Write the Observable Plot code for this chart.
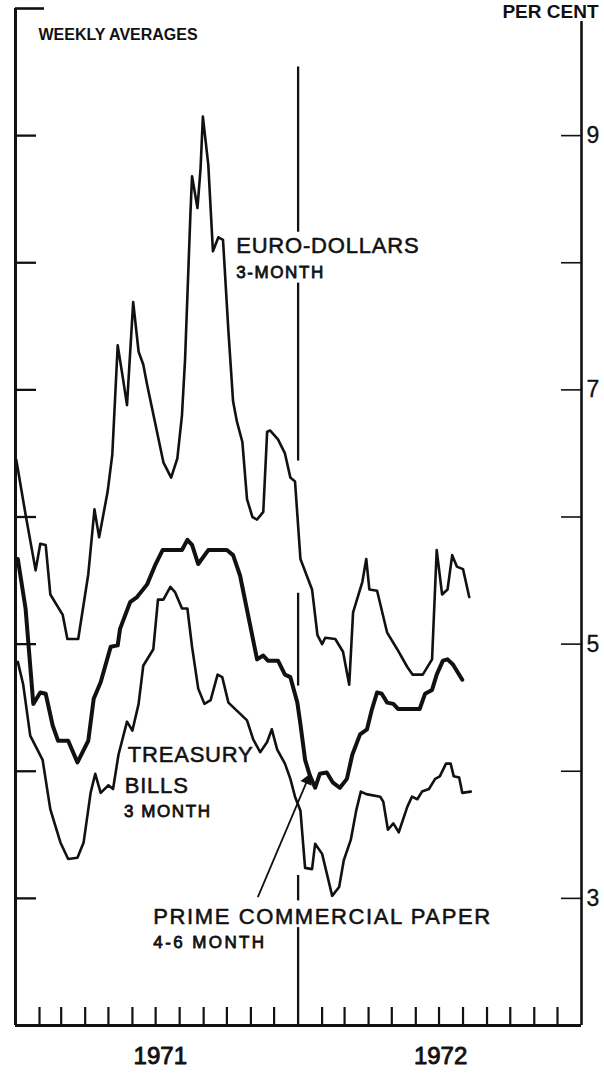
<!DOCTYPE html>
<html><head><meta charset="utf-8">
<script src="https://cdn.jsdelivr.net/npm/d3@7"></script>
<script src="https://cdn.jsdelivr.net/npm/@observablehq/plot@0.6"></script>
<style>
html,body{margin:0;padding:0;background:#fff;}
#chart svg{display:block;}
g[font-size="22"]{letter-spacing:0.8px;}
g[font-size="17"]{letter-spacing:1.6px;}
</style></head><body><div id="chart"></div>
<script>
// Weekly averages, per cent
const euroDollars = [
["1971-01-02",6.45],["1971-01-14",6.02],["1971-01-27",5.58],["1971-02-02",5.79],["1971-02-09",5.78],
["1971-02-15",5.39],["1971-03-03",5.23],["1971-03-09",5.04],["1971-03-23",5.04],["1971-04-05",5.55],
["1971-04-13",6.06],["1971-04-19",5.84],["1971-04-30",6.20],["1971-05-06",6.49],["1971-05-13",7.35],
["1971-05-19",7.12],["1971-05-25",6.88],["1971-06-02",7.69],["1971-06-09",7.30],["1971-06-15",7.20],
["1971-06-20",7.04],["1971-07-11",6.43],["1971-07-21",6.31],["1971-07-29",6.46],["1971-08-04",6.80],
["1971-08-08",7.24],["1971-08-15",8.40],["1971-08-17",8.68],["1971-08-24",8.43],["1971-08-28",8.74],
["1971-08-31",9.15],["1971-09-07",8.77],["1971-09-13",8.09],["1971-09-20",8.20],["1971-09-26",8.18],
["1971-10-03",7.46],["1971-10-09",6.91],["1971-10-14",6.75],["1971-10-21",6.59],["1971-10-27",6.14],
["1971-11-03",6.00],["1971-11-09",5.98],["1971-11-17",6.04],["1971-11-22",6.67],["1971-11-26",6.68],
["1971-12-06",6.61],["1971-12-15",6.50],["1971-12-22",6.31],["1971-12-28",6.28],["1972-01-04",5.67],
["1972-01-19",5.43],["1972-01-26",5.07],["1972-02-01",5.00],["1972-02-05",5.05],["1972-02-18",5.04],
["1972-02-28",4.94],["1972-03-07",4.68],["1972-03-12",5.25],["1972-03-24",5.49],["1972-03-29",5.67],
["1972-04-02",5.43],["1972-04-12",5.42],["1972-04-25",5.09],["1972-05-08",4.96],["1972-05-21",4.82],
["1972-05-28",4.76],["1972-06-10",4.76],["1972-06-22",4.88],["1972-06-28",5.74],["1972-07-05",5.39],
["1972-07-12",5.43],["1972-07-18",5.70],["1972-07-24",5.61],["1972-08-01",5.59],["1972-08-09",5.37]
];
const commercialPaper = [
["1971-01-04",5.67],["1971-01-14",5.28],["1971-01-24",4.53],["1971-02-02",4.62],["1971-02-09",4.61],
["1971-02-18",4.36],["1971-02-25",4.24],["1971-03-10",4.24],["1971-03-22",4.07],["1971-04-05",4.24],
["1971-04-12",4.57],["1971-04-21",4.70],["1971-05-04",4.98],["1971-05-13",4.99],["1971-05-16",5.12],
["1971-05-29",5.33],["1971-06-07",5.37],["1971-06-20",5.47],["1971-07-01",5.63],["1971-07-10",5.74],
["1971-08-04",5.74],["1971-08-11",5.82],["1971-08-17",5.78],["1971-08-25",5.63],["1971-09-07",5.74],
["1971-10-01",5.74],["1971-10-09",5.70],["1971-10-18",5.54],["1971-11-09",4.88],["1971-11-17",4.91],
["1971-11-23",4.87],["1971-12-06",4.87],["1971-12-15",4.76],["1971-12-22",4.74],["1971-12-31",4.54],
["1972-01-04",4.37],["1972-01-10",4.09],["1972-01-16",3.97],["1972-01-23",3.87],["1972-01-29",3.98],
["1972-02-07",3.99],["1972-02-15",3.91],["1972-02-24",3.87],["1972-03-04",3.94],["1972-03-11",4.13],
["1972-03-21",4.29],["1972-03-30",4.33],["1972-04-05",4.48],["1972-04-12",4.62],["1972-04-18",4.61],
["1972-04-25",4.54],["1972-05-03",4.53],["1972-05-09",4.49],["1972-06-06",4.49],["1972-06-13",4.61],
["1972-06-22",4.64],["1972-06-28",4.76],["1972-07-06",4.87],["1972-07-12",4.88],["1972-07-19",4.84],
["1972-07-31",4.72]
];
const treasuryBills = [
["1971-01-04",4.86],["1971-01-11",4.68],["1971-01-20",4.28],["1971-02-05",4.09],["1971-02-15",3.70],
["1971-02-28",3.44],["1971-03-10",3.31],["1971-03-22",3.32],["1971-03-30",3.44],["1971-04-08",3.83],
["1971-04-14",3.98],["1971-04-21",3.83],["1971-05-01",3.89],["1971-05-07",3.86],["1971-05-14",4.13],
["1971-05-25",4.39],["1971-06-01",4.32],["1971-06-09",4.53],["1971-06-15",4.83],["1971-06-28",4.96],
["1971-07-04",5.35],["1971-07-11",5.35],["1971-07-20",5.45],["1971-07-26",5.41],["1971-08-04",5.28],
["1971-08-11",5.28],["1971-08-17",4.98],["1971-08-25",4.65],["1971-09-02",4.53],["1971-09-10",4.56],
["1971-09-19",4.76],["1971-09-25",4.74],["1971-10-03",4.54],["1971-10-27",4.40],["1971-11-04",4.25],
["1971-11-13",4.15],["1971-11-22",4.23],["1971-11-28",4.33],["1971-12-05",4.17],["1971-12-15",4.06],
["1971-12-22",3.94],["1971-12-28",3.80],["1972-01-04",3.69],["1972-01-10",3.24],["1972-01-19",3.23],
["1972-01-23",3.43],["1972-02-01",3.35],["1972-02-14",3.02],["1972-02-23",3.09],["1972-02-29",3.30],
["1972-03-09",3.46],["1972-03-16",3.69],["1972-03-22",3.84],["1972-03-29",3.82],["1972-04-16",3.80],
["1972-04-20",3.76],["1972-04-26",3.54],["1972-05-03",3.59],["1972-05-10",3.52],["1972-05-21",3.72],
["1972-05-27",3.80],["1972-06-03",3.78],["1972-06-09",3.84],["1972-06-18",3.86],["1972-06-26",3.94],
["1972-07-02",3.96],["1972-07-10",4.06],["1972-07-16",4.06],["1972-07-20",3.96],["1972-07-27",3.95],
["1972-07-31",3.83],["1972-08-11",3.84]
];

const yTicks = [3, 4, 5, 6, 7, 8, 9];
const yTickLabels = [3, 5, 7, 9];
const yearLabels = [["1971-07-07", "1971"], ["1972-07-03", "1972"]];
// Year divider (1972-01-01) drawn in pieces, broken where lines/labels cross it
const dividerPieces = [[9.54, 8.24], [7.84, 6.44], [5.40, 4.67], [3.18, 2.98], [2.77, 2.0]];
const seriesLabels = [
  {date: "1971-10-13", value: 8.08, text: "EURO-DOLLARS", big: true},
  {date: "1971-10-13", value: 7.88, text: "3-MONTH", big: false},
  {date: "1971-05-26", value: 4.07, text: "TREASURY", big: true},
  {date: "1971-05-22", value: 3.83, text: "BILLS", big: true},
  {date: "1971-05-21", value: 3.64, text: "3 MONTH", big: false},
  {date: "1971-06-28", value: 2.80, text: "PRIME COMMERCIAL PAPER", big: true},
  {date: "1971-06-28", value: 2.61, text: "4-6 MONTH", big: false}
];
const pointer = [{x1: "1971-11-10", y1: 3.01, x2: "1972-01-13", y2: 3.93}];

const D = s => new Date(s);
const toRows = (arr, name) => arr.map(([d, v]) => ({date: D(d), value: v, series: name}));
const ed = toRows(euroDollars, "Euro-dollars");
const cp = toRows(commercialPaper, "Commercial paper");
const tb = toRows(treasuryBills, "Treasury bills");

const W = 604, H = 1074, mL = 15, mR = 23, mT = 8, mB = 49;
const pw = W - mL - mR, ph = H - mT - mB;
const start = D("1971-01-01"), end = D("1973-01-01"), div = D("1972-01-01");
const months = d3.utcMonth.range(D("1971-02-01"), end).filter(d => +d !== +div);
const ink = "#111";
const font = "Liberation Sans";
const heavy = {stroke: ink, strokeWidth: 0.55};

const chart = Plot.plot({
  width: W, height: H,
  marginLeft: mL, marginRight: mR, marginTop: mT, marginBottom: mB,
  x: {type: "utc", domain: [start, end], axis: null},
  y: {domain: [2, 10], axis: null},
  style: {background: "#fff", fontFamily: font, color: ink},
  marks: [
    // frame pieces
    Plot.ruleX([start], {stroke: ink, strokeWidth: 3}),
    Plot.ruleX([end], {stroke: ink, strokeWidth: 2.6, insetTop: 13}),
    Plot.ruleY([2], {stroke: ink, strokeWidth: 3}),
    Plot.ruleY([10], {stroke: ink, strokeWidth: 2.6, insetRight: pw - 29}),
    Plot.ruleY(yTicks, {stroke: ink, strokeWidth: 2.3, insetRight: pw - 21}),
    Plot.ruleY(yTicks, {stroke: ink, strokeWidth: 1.6, insetLeft: pw - 20}),
    Plot.ruleX(months, {stroke: ink, strokeWidth: 2.2, insetTop: ph - 18}),
    Plot.ruleX(dividerPieces, {x: () => div, y1: d => d[0], y2: d => d[1], stroke: ink, strokeWidth: 2.3}),
    // series
    Plot.line(ed, {x: "date", y: "value", stroke: ink, strokeWidth: 2.6, strokeLinejoin: "round"}),
    Plot.line(tb, {x: "date", y: "value", stroke: ink, strokeWidth: 2.6, strokeLinejoin: "round"}),
    Plot.line(cp, {x: "date", y: "value", stroke: ink, strokeWidth: 4, strokeLinejoin: "round"}),
    Plot.link(pointer, {x1: d => D(d.x1), y1: "y1", x2: d => D(d.x2), y2: "y2", stroke: ink, strokeWidth: 1.8}),
    Plot.dot(pointer, {x: d => D(d.x2), y: "y2", symbol: "triangle", r: 4.5, rotate: 23, fill: ink, stroke: null}),
    // labels
    Plot.text(seriesLabels.filter(d => d.big), {x: d => D(d.date), y: "value", text: "text", textAnchor: "start", lineAnchor: "bottom", fontSize: 22, fill: ink, fontFamily: font, ...heavy}),
    Plot.text(seriesLabels.filter(d => !d.big), {x: d => D(d.date), y: "value", text: "text", textAnchor: "start", lineAnchor: "bottom", fontSize: 17, fill: ink, fontFamily: font, stroke: ink, strokeWidth: 0.8}),
    Plot.text(yTickLabels, {y: d => d, text: d => String(d), frameAnchor: "right", dx: 5, textAnchor: "start", fontSize: 23, fill: ink, fontFamily: font, stroke: ink, strokeWidth: 0.3}),
    Plot.text(yearLabels, {x: d => D(d[0]), text: d => d[1], frameAnchor: "bottom", dy: 38, lineAnchor: "bottom", fontSize: 24, fill: ink, fontFamily: font, stroke: ink, strokeWidth: 0.9}),
    Plot.text(["PER CENT"], {frameAnchor: "top-right", dx: 17, dy: 9, textAnchor: "end", lineAnchor: "bottom", fontSize: 19, fontWeight: "bold", fill: ink, fontFamily: font}),
    Plot.text(["WEEKLY AVERAGES"], {frameAnchor: "top-left", dx: 23, dy: 31, textAnchor: "start", lineAnchor: "bottom", fontSize: 16, fontWeight: "bold", fill: ink, fontFamily: font})
  ]
});
// per-label spacing tweaks to match the reference lettering
d3.select(chart).selectAll("text").each(function() {
  const t = this.textContent;
  if (t === "PRIME COMMERCIAL PAPER") this.style.letterSpacing = "1.6px";
  if (t === "4-6 MONTH") this.style.letterSpacing = "2.4px";
});
document.getElementById("chart").appendChild(chart);
</script>
</body></html>
